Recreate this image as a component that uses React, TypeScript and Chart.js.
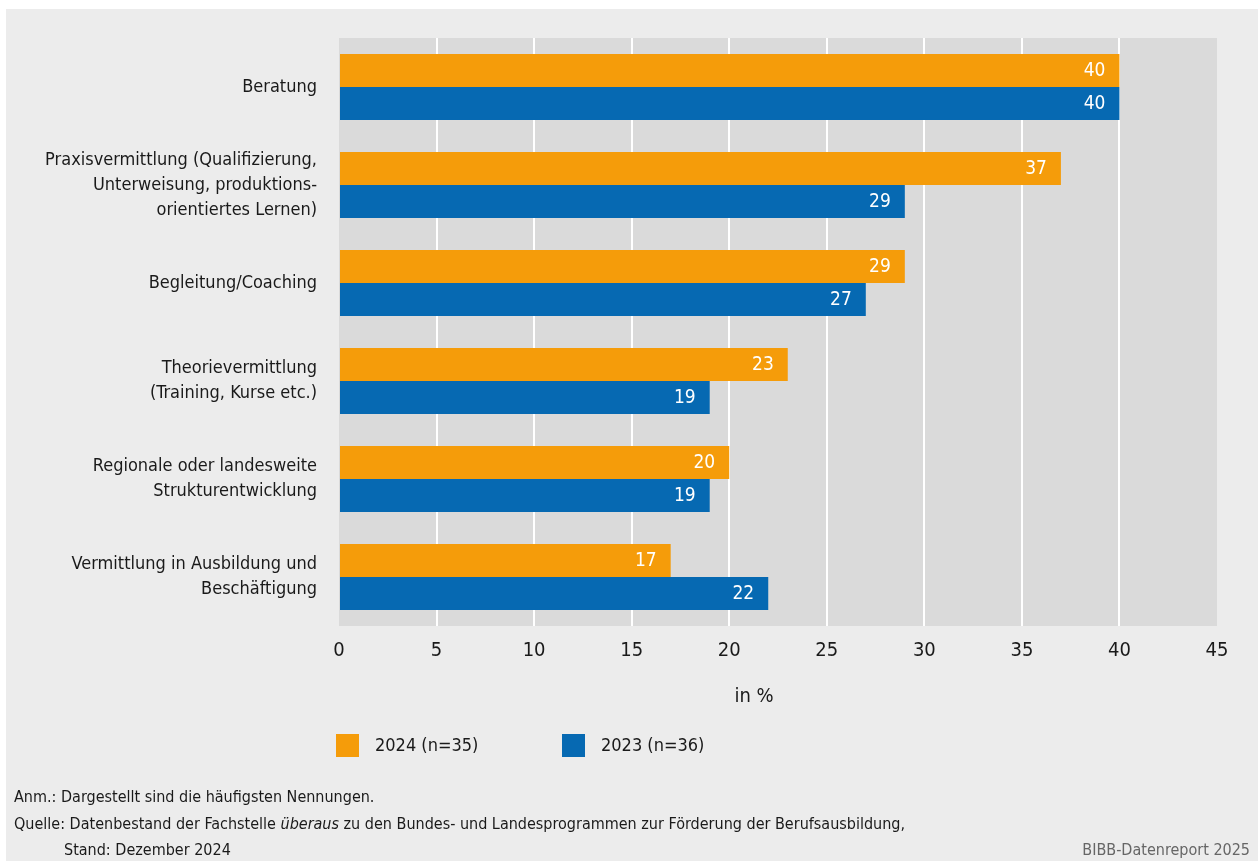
import React, { useEffect, useRef } from "react";
import { Chart, registerables } from "chart.js";

Chart.register(...registerables);

const categories: (string | string[])[] = [
  "Beratung",
  ["Praxisvermittlung (Qualifizierung,", "Unterweisung, produktions-", "orientiertes Lernen)"],
  "Begleitung/Coaching",
  ["Theorievermittlung", "(Training, Kurse etc.)"],
  ["Regionale oder landesweite", "Strukturentwicklung"],
  ["Vermittlung in Ausbildung und", "Beschäftigung"],
];
const values2024 = [40, 37, 29, 23, 20, 17];
const values2023 = [40, 29, 27, 19, 19, 22];
const seriesLabels = ["2024 (n=35)", "2023 (n=36)"];
const seriesColors = ["#f59c0a", "#0669b2"];
const axisTitle = "in %";
const noteLines = [
  "Anm.: Dargestellt sind die häufigsten Nennungen.",
  "Quelle: Datenbestand der Fachstelle ",
  "überaus",
  " zu den Bundes- und Landesprogrammen zur Förderung der Berufsausbildung,",
  "Stand: Dezember 2024",
];
const sourceTag = "BIBB-Datenreport 2025";

const FONT = '"Liberation Sans Narrow", "DejaVu Sans Condensed", "Roboto Condensed", sans-serif';
const TEXT = "#1a1a1a";

const decorPlugin = {
  id: "decor",
  beforeDraw(chart: any) {
    const { ctx, width, height, chartArea } = chart;
    ctx.save();
    ctx.fillStyle = "#ffffff";
    ctx.fillRect(0, 0, width, height);
    ctx.fillStyle = "#ececec";
    ctx.fillRect(6, 9, width - 6, height - 9);
    ctx.fillStyle = "#dadada";
    ctx.fillRect(chartArea.left, chartArea.top, chartArea.right - chartArea.left, chartArea.bottom - chartArea.top);
    ctx.restore();
  },
  afterDatasetsDraw(chart: any) {
    const { ctx } = chart;
    ctx.save();
    ctx.font = `19px ${FONT}`;
    ctx.fillStyle = "#ffffff";
    ctx.textAlign = "right";
    ctx.textBaseline = "middle";
    chart.data.datasets.forEach((ds: any, di: number) => {
      const meta = chart.getDatasetMeta(di);
      meta.data.forEach((bar: any, i: number) => {
        ctx.fillText(String(ds.data[i]), bar.x - 14, bar.y + 1);
      });
    });
    ctx.restore();
  },
  afterDraw(chart: any) {
    const { ctx, width } = chart;
    ctx.save();
    ctx.fillStyle = TEXT;
    ctx.textBaseline = "middle";
    // axis title
    ctx.font = `20px ${FONT}`;
    ctx.textAlign = "center";
    ctx.fillText(axisTitle, 754, 697);
    // legend
    const legendX = [336, 562];
    chart.data.datasets.forEach((ds: any, i: number) => {
      ctx.fillStyle = ds.backgroundColor;
      ctx.fillRect(legendX[i], 734, 23, 23);
      ctx.fillStyle = TEXT;
      ctx.textAlign = "left";
      ctx.font = `18px ${FONT}`;
      ctx.fillText(ds.label, legendX[i] + 39, 746);
    });
    // footer
    ctx.font = `16px ${FONT}`;
    ctx.textAlign = "left";
    ctx.fillText(noteLines[0], 14, 798);
    let x = 14;
    ctx.fillText(noteLines[1], x, 825);
    x += ctx.measureText(noteLines[1]).width;
    ctx.font = `italic 16px ${FONT}`;
    ctx.fillText(noteLines[2], x, 825);
    x += ctx.measureText(noteLines[2]).width;
    ctx.font = `16px ${FONT}`;
    ctx.fillText(noteLines[3], x, 825);
    ctx.fillText(noteLines[4], 64, 851);
    ctx.fillStyle = "#666666";
    ctx.textAlign = "right";
    ctx.fillText(sourceTag, width - 8, 851);
    ctx.restore();
  },
};

export default function App() {
  const ref = useRef<HTMLCanvasElement | null>(null);
  useEffect(() => {
    if (!ref.current) return;
    const chart = new Chart(ref.current, {
      type: "bar",
      data: {
        labels: categories,
        datasets: [
          { label: seriesLabels[0], data: values2024, backgroundColor: seriesColors[0], borderWidth: 0 },
          { label: seriesLabels[1], data: values2023, backgroundColor: seriesColors[1], borderWidth: 0 },
        ],
      },
      options: {
        indexAxis: "y",
        responsive: false,
        animation: false,
        devicePixelRatio: 1,
        layout: { padding: { left: 6, top: 38, right: 41, bottom: 0 } },
        datasets: { bar: { categoryPercentage: 0.673, barPercentage: 1 } },
        plugins: { legend: { display: false }, tooltip: { enabled: false } },
        scales: {
          x: {
            min: 0,
            max: 45,
            ticks: { stepSize: 5, color: TEXT, font: { family: FONT, size: 20 }, padding: 13 },
            grid: {
              drawTicks: false,
              lineWidth: 2,
              color: (c: any) => (c.tick && (c.tick.value === 0 || c.tick.value === 45) ? "rgba(0,0,0,0)" : "#ffffff"),
            },
            border: { display: false },
            afterFit(scale: any) {
              scale.height = 235;
              scale.paddingLeft = 0;
              scale.paddingRight = 0;
            },
          },
          y: {
            ticks: { color: TEXT, font: { family: FONT, size: 18, lineHeight: 1.39 }, padding: 22 },
            grid: { display: false, drawTicks: false },
            border: { display: false },
            afterFit(scale: any) {
              scale.width = 333;
              scale.paddingTop = 0;
              scale.paddingBottom = 0;
            },
          },
        },
      },
      plugins: [decorPlugin],
    });
    return () => chart.destroy();
  }, []);
  return (
    <div style={{ position: "absolute", left: 0, top: 0, width: 1258, height: 861 }}>
      <canvas ref={ref} width={1258} height={861} />
    </div>
  );
}
